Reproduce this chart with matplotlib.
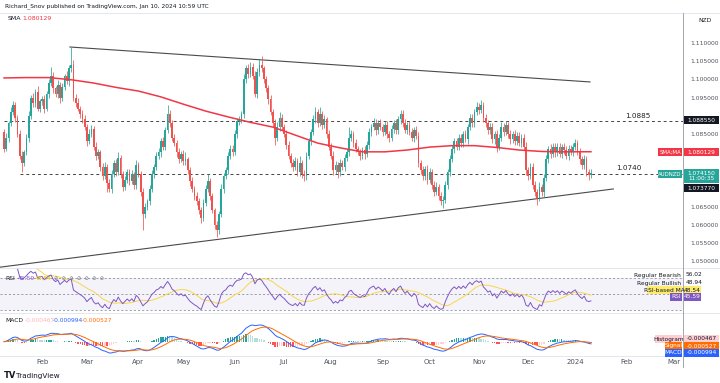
import numpy as np
import pandas as pd
import matplotlib
matplotlib.use("Agg")
import matplotlib.pyplot as plt
from matplotlib.patches import Rectangle
from matplotlib.lines import Line2D

# AUDNZD daily, 9 Jan 2023 - 10 Jan 2024
first_open = 1.0855
closes = [
    1.0810, 1.0840, 1.0880, 1.0910, 1.0930, 1.0895, 1.0850, 1.0790, 1.0770, 1.0800,
    1.0840, 1.0900, 1.0950, 1.0935, 1.0965, 1.0920, 1.0940, 1.0945, 1.0920, 1.0960,
    1.0990, 1.1010, 1.0975, 1.0960, 1.0985, 1.0950, 1.0980, 1.1010, 1.0995, 1.1030,
    1.1040, 1.0950, 1.0935, 1.0920, 1.0905, 1.0890, 1.0870, 1.0830, 1.0850, 1.0865,
    1.0815, 1.0790, 1.0800, 1.0760, 1.0735, 1.0760, 1.0715, 1.0700, 1.0740, 1.0770,
    1.0745, 1.0785, 1.0740, 1.0705, 1.0725, 1.0745, 1.0720, 1.0740, 1.0710, 1.0765,
    1.0740, 1.0690, 1.0630, 1.0650, 1.0665, 1.0700, 1.0740, 1.0760, 1.0790, 1.0800,
    1.0830, 1.0815, 1.0860, 1.0905, 1.0880, 1.0840, 1.0825, 1.0800, 1.0780, 1.0795,
    1.0775, 1.0780, 1.0750, 1.0720, 1.0700, 1.0680, 1.0665, 1.0640, 1.0620, 1.0660,
    1.0700, 1.0720, 1.0680, 1.0640, 1.0600, 1.0585, 1.0630, 1.0700, 1.0735, 1.0750,
    1.0790, 1.0810, 1.0800, 1.0850, 1.0885, 1.0890, 1.0905, 1.1000, 1.1030, 1.1015,
    1.1035, 1.1010, 1.0960, 1.1020, 1.1040, 1.1030, 1.1000, 1.0975, 1.0945, 1.0910,
    1.0880, 1.0840, 1.0870, 1.0895, 1.0870, 1.0850, 1.0820, 1.0790, 1.0770, 1.0760,
    1.0775, 1.0745, 1.0770, 1.0740, 1.0735, 1.0790, 1.0830, 1.0855, 1.0890, 1.0910,
    1.0880, 1.0905, 1.0875, 1.0890, 1.0850, 1.0815, 1.0790, 1.0750, 1.0765, 1.0745,
    1.0770, 1.0760, 1.0785, 1.0800, 1.0840, 1.0850, 1.0825, 1.0810, 1.0800, 1.0790,
    1.0805, 1.0795, 1.0820, 1.0855, 1.0870, 1.0880, 1.0860, 1.0880, 1.0870, 1.0855,
    1.0875, 1.0850, 1.0840, 1.0865, 1.0880, 1.0860, 1.0890, 1.0905, 1.0880, 1.0860,
    1.0875, 1.0855, 1.0840, 1.0860, 1.0845, 1.0770, 1.0750, 1.0735, 1.0755, 1.0725,
    1.0745, 1.0710, 1.0690, 1.0705, 1.0680, 1.0665, 1.0670, 1.0710, 1.0745, 1.0780,
    1.0810, 1.0830, 1.0815, 1.0840, 1.0825, 1.0850, 1.0835, 1.0870, 1.0895, 1.0880,
    1.0910, 1.0925, 1.0915, 1.0930, 1.0895, 1.0880, 1.0860, 1.0870, 1.0835, 1.0850,
    1.0815, 1.0840, 1.0870, 1.0855, 1.0875, 1.0850, 1.0835, 1.0850, 1.0830, 1.0845,
    1.0825, 1.0840, 1.0815, 1.0750, 1.0735, 1.0760, 1.0710, 1.0690, 1.0675, 1.0705,
    1.0690, 1.0730, 1.0780, 1.0810, 1.0795, 1.0815, 1.0800, 1.0815, 1.0795, 1.0815,
    1.0805, 1.0790, 1.0810, 1.0800, 1.0815, 1.0825, 1.0800, 1.0780, 1.0765, 1.0780,
    1.0745, 1.0738, 1.07415,
]
# wick lengths beyond the body, in pips
wick_up = [
    8, 12, 6, 15, 10, 9, 7, 11, 14, 6, 10, 13, 8, 12, 9, 16, 7, 10, 12, 8,
    11, 25, 9, 7, 12, 8, 10, 6, 13, 9, 50, 12, 9, 15, 8, 10, 11, 7, 14, 9,
    8, 12, 10, 7, 9, 13, 8, 11, 10, 9, 12, 15, 7, 9, 11, 8, 10, 12, 6, 14,
    9, 8, 11, 10, 7, 9, 12, 8, 10, 11, 9, 13, 10, 25, 12, 8, 10, 9, 11, 7,
    10, 20, 8, 9, 11, 7, 10, 8, 9, 12, 10, 20, 9, 8, 7, 10, 9, 12, 8, 10,
    11, 9, 10, 12, 8, 10, 9, 14, 10, 11, 13, 9, 12, 10, 15, 25, 8, 10, 9, 11,
    8, 10, 12, 15, 9, 8, 10, 11, 9, 10, 12, 8, 20, 9, 10, 11, 8, 10, 12, 14,
    10, 19, 9, 11, 8, 10, 9, 12, 10, 8, 11, 9, 10, 8, 30, 10, 9, 12, 8, 10,
    9, 11, 10, 12, 8, 15, 10, 9, 11, 8, 10, 12, 9, 11, 8, 10, 9, 12, 10, 11,
    9, 10, 12, 8, 11, 10, 9, 12, 8, 10, 11, 9, 10, 12, 8, 10, 9, 11, 10, 12,
    9, 10, 8, 11, 10, 9, 12, 8, 10, 11, 9, 12, 10, 13, 9, 10, 8, 11, 10, 9,
    12, 10, 14, 9, 11, 8, 10, 9, 12, 10, 11, 9, 10, 12, 8, 10, 9, 11, 10, 12,
    9, 10, 11, 8, 12, 10, 9, 11, 10, 8, 10, 12, 9, 11, 10, 10, 9, 12, 10, 11,
    9, 10, 12,
]
wick_dn = [
    10, 7, 12, 8, 9, 11, 8, 10, 25, 9, 8, 11, 9, 10, 12, 7, 10, 9, 11, 8,
    10, 9, 12, 8, 11, 15, 9, 10, 8, 12, 9, 10, 12, 8, 11, 9, 10, 12, 8, 9,
    10, 12, 9, 11, 10, 8, 25, 10, 12, 9, 11, 8, 10, 12, 9, 10, 11, 8, 12, 10,
    9, 11, 44, 12, 9, 10, 8, 11, 9, 10, 12, 9, 10, 8, 11, 10, 9, 12, 10, 8,
    9, 11, 10, 12, 8, 10, 9, 11, 15, 10, 9, 10, 12, 8, 11, 18, 10, 9, 12, 8,
    10, 9, 11, 8, 12, 10, 9, 11, 10, 12, 9, 10, 8, 12, 10, 11, 9, 10, 12, 8,
    10, 20, 9, 11, 10, 8, 12, 9, 10, 11, 8, 10, 9, 12, 15, 10, 9, 11, 8, 10,
    12, 9, 10, 8, 11, 10, 9, 12, 10, 15, 9, 10, 12, 8, 10, 9, 11, 10, 8, 12,
    10, 15, 9, 11, 10, 8, 12, 9, 10, 11, 9, 10, 12, 8, 11, 10, 9, 12, 10, 8,
    11, 9, 10, 12, 8, 10, 9, 11, 10, 12, 9, 10, 11, 8, 12, 10, 18, 9, 11, 10,
    8, 12, 10, 9, 11, 10, 8, 12, 9, 10, 11, 9, 10, 8, 12, 10, 9, 11, 10, 12,
    15, 10, 9, 11, 8, 10, 12, 9, 10, 11, 9, 10, 8, 12, 10, 9, 11, 10, 20, 9,
    10, 12, 9, 11, 10, 8, 12, 10, 9, 11, 10, 9, 12, 8, 11, 10, 9, 12, 10, 11,
    9, 15, 10,
]

# 200 SMA read every 10 bars
sma_bar = [0, 10, 20, 30, 40, 50, 60, 70, 80, 90, 100, 110, 120, 130,
           140, 150, 160, 170, 180, 190, 200, 210, 220, 230, 240, 250, 262]
sma_val = [1.1004, 1.1005, 1.1005, 1.0999, 1.0990, 1.0978, 1.0968, 1.0952,
           1.0932, 1.0913, 1.0897, 1.0882, 1.0869, 1.0847, 1.0825, 1.0812,
           1.0801, 1.0801, 1.0806, 1.0814, 1.0818, 1.0818, 1.0813, 1.0806,
           1.0802, 1.0801, 1.08013]

levels = [1.0885, 1.0740]
level_start = [0, 7]
upper_trend = [(29.4, 1.1089), (261.6, 1.0993)]
lower_trend = [(-2.0, 1.0484), (272.0, 1.0699)]

price_ticks = [1.110, 1.105, 1.100, 1.095, 1.085, 1.065, 1.060, 1.055, 1.050]

UP, DOWN = "#26a69a", "#ef5350"
W, H = 720, 383

c = np.array(closes)
o = np.r_[first_open, c[:-1]]
hi = np.maximum(o, c) + np.array(wick_up) * 1e-4
lo = np.minimum(o, c) - np.array(wick_dn) * 1e-4
n = len(c)
idx = np.arange(n)
s = pd.Series(c)

# RSI 14 and its 14 SMA
delta = s.diff()
gain = delta.clip(lower=0).ewm(alpha=1 / 14, adjust=False).mean()
loss = (-delta.clip(upper=0)).ewm(alpha=1 / 14, adjust=False).mean()
rsi = 100 - 100 / (1 + gain / loss)
rsi_ma = rsi.rolling(14, min_periods=1).mean()

# MACD 12 26 9
macd = s.ewm(span=12, adjust=False).mean() - s.ewm(span=26, adjust=False).mean()
signal = macd.ewm(span=9, adjust=False).mean()
hist = macd - signal
prev = hist.shift(1).fillna(0)
hcol = np.where(hist >= 0, np.where(hist > prev, "#26a69a", "#b2dfdb"),
                np.where(hist < prev, "#ff5252", "#ffcdd2"))

# month ticks
cal = pd.bdate_range("2023-01-09", "2024-03-29")
first_days = [i for i in range(1, len(cal)) if cal[i].month != cal[i - 1].month]
month_lbl = [str(cal[i].year) if cal[i].month == 1 else cal[i].strftime("%b") for i in first_days]

fig = plt.figure(figsize=(7.2, 3.83), dpi=100)
plt.rcParams["font.family"] = ["DejaVu Sans"]


def box(x0, y0, x1, y1):
    return [x0 / W, 1 - y1 / H, (x1 - x0) / W, (y1 - y0) / H]


def ftext(x, y, txt, **kw):
    fig.text(x / W, 1 - y / H, txt, **kw)


def tag(x0, y, w, txt, fc, tc="white", h=8, fs=4.2):
    fig.add_artist(Rectangle((x0 / W, 1 - (y + h / 2) / H), w / W, h / H,
                             transform=fig.transFigure, fc=fc, ec="none", zorder=5))
    fig.text((x0 + w / 2) / W, 1 - y / H, txt, color=tc, fontsize=fs,
             ha="center", va="center", zorder=6, linespacing=1.1)


ax = fig.add_axes(box(0, 13, 683, 268))
ax_rsi = fig.add_axes(box(0, 268, 683, 313), sharex=ax)
ax_macd = fig.add_axes(box(0, 313, 683, 356), sharex=ax)

# candles
cols = np.where(c >= o, UP, DOWN)
ax.vlines(idx, lo, hi, colors=cols, lw=0.55, zorder=3)
ax.bar(idx, np.where(np.abs(c - o) < 2e-5, 2e-5, c - o), bottom=o, width=0.78,
       color=cols, zorder=4, linewidth=0)
ax.plot(sma_bar, sma_val, color="#f23645", lw=1.1, zorder=5)

for lv, st in zip(levels, level_start):
    ax.plot([st, 310], [lv, lv], color="#444444", lw=0.7, ls=(0, (3, 3)), zorder=2)
ax.text(283, 1.0885 + 0.0007, "1.0885", fontsize=5.2, ha="center", va="bottom", color="#222")
ax.text(279, 1.0740 + 0.0007, "1.0740", fontsize=5.2, ha="center", va="bottom", color="#222")
for (x0, y0), (x1, y1) in [upper_trend, lower_trend]:
    ax.plot([x0, x1], [y0, y1], color="#4a4a4a", lw=0.8, zorder=2)

ax.set_xlim(-1.8, 303.1)
ax.set_ylim(1.04819, 1.11824)
ax.yaxis.tick_right()
ax.set_yticks(price_ticks)
ax.set_yticklabels([f"{v:.6f}" for v in price_ticks])
ax.tick_params(axis="y", length=0, labelsize=4.3, pad=5, colors="#50535e")
ax.tick_params(axis="x", bottom=False, labelbottom=False)

# RSI pane
ax_rsi.axhspan(30, 70, color="#7e57c2", alpha=0.07, lw=0)
for lv in (70, 50, 30):
    ax_rsi.axhline(lv, color="#787b86", lw=0.5, ls=(0, (3, 3)))
ax_rsi.plot(idx, rsi_ma, color="#f7d64a", lw=0.7)
ax_rsi.plot(idx, rsi, color="#7e57c2", lw=0.7)
ax_rsi.set_ylim(26.2, 83.0)
ax_rsi.set_yticks([])
ax_rsi.tick_params(axis="x", bottom=False, labelbottom=False)

# MACD pane
ax_macd.bar(idx, hist, width=0.6, color=hcol, lw=0)
ax_macd.plot(idx, macd, color="#2962ff", lw=0.7)
ax_macd.plot(idx, signal, color="#ff6d00", lw=0.7)
mlo = min(macd.min(), signal.min(), hist.min())
mhi = max(macd.max(), signal.max(), hist.max())
r = mhi - mlo
ax_macd.set_ylim(mlo - r * 3 / 28, mhi + r * 12 / 28)
ax_macd.set_yticks([])
ax_macd.set_xticks(first_days)
ax_macd.set_xticklabels(month_lbl)
ax_macd.tick_params(axis="x", length=0, labelsize=5, pad=2, colors="#50535e")

for a in (ax, ax_rsi, ax_macd):
    for sp in a.spines.values():
        sp.set_visible(False)

# pane borders
for y in (13, 268, 313, 356):
    fig.add_artist(Line2D([0, 1], [1 - y / H] * 2, color="#e0e3eb", lw=0.6))
fig.add_artist(Line2D([683 / W] * 2, [1 - 13 / H, 1 - 367 / H], color="#9598a1", lw=0.6))

# header texts
ftext(5, 6, "Richard_Snov published on TradingView.com, Jan 10, 2024 10:59 UTC",
      fontsize=4.2, color="#131722", va="center")
ftext(8, 19, "SMA", fontsize=4.5, color="#131722", va="center")
ftext(22, 19, "1.080129", fontsize=4.5, color="#f23645", va="center")
ftext(705, 20, "NZD", fontsize=4.3, color="#131722", va="center", ha="center")
ftext(5, 278, "RSI", fontsize=4.3, color="#131722", va="center")
ftext(18, 278, "45.59", fontsize=4.3, color="#7e57c2", va="center")
ftext(35, 278, "48.54", fontsize=4.3, color="#e6b800", va="center")
ftext(54, 278, "\u2298  \u2298  \u2298  \u2298  \u2298  \u2298  \u2298", fontsize=3.8,
      color="#787b86", va="center")
ftext(5, 320, "MACD", fontsize=4.3, color="#131722", va="center")
ftext(25, 320, "-0.000467", fontsize=4.3, color="#ffb3ba", va="center")
ftext(53, 320, "-0.000994", fontsize=4.3, color="#2962ff", va="center")
ftext(82, 320, "-0.000527", fontsize=4.3, color="#ff6d00", va="center")

# price scale tags
tag(684, 120, 35, "1.088550", "#131722")
tag(658, 152, 24, "SMA;MA", "#f23645", fs=3.9)
tag(684, 152, 35, "1.080129", "#f23645")
tag(658, 174, 24, "AUDNZD", "#26a69a", fs=3.9)
tag(684, 176, 35, "1.074150\n11:00:35", "#26a69a", h=14)
tag(684, 188, 35, "1.073770", "#131722")

ftext(681, 275, "Regular Bearish", fontsize=4.2, color="#131722", va="center", ha="right")
ftext(686, 275, "56.02", fontsize=4.2, color="#131722", va="center")
ftext(681, 283, "Regular Bullish", fontsize=4.2, color="#131722", va="center", ha="right")
ftext(686, 283, "48.94", fontsize=4.2, color="#131722", va="center")
tag(647, 290, 35, "RSI-based MA", "#fdeb6e", tc="#131722")
tag(684, 290, 17, "48.54", "#fdeb6e", tc="#131722")
tag(670, 297, 12, "RSI", "#7e57c2")
tag(684, 297, 17, "45.59", "#7e57c2")

tag(655, 339, 27, "Histogram", "#ffcdd2", tc="#131722")
tag(684, 339, 35, "-0.000467", "#ffcdd2", tc="#131722")
tag(665, 346, 17, "Signal", "#ff6d00")
tag(684, 346, 35, "-0.000527", "#ff6d00")
tag(665, 353, 17, "MACD", "#2962ff")
tag(684, 353, 35, "-0.000994", "#2962ff")

# logo
ftext(4, 376, "TV", fontsize=6, fontweight="bold", color="#131722", va="center")
ftext(16, 376, "TradingView", fontsize=5.2, color="#131722", va="center")

fig.savefig("out.png", dpi=100, facecolor="white")
